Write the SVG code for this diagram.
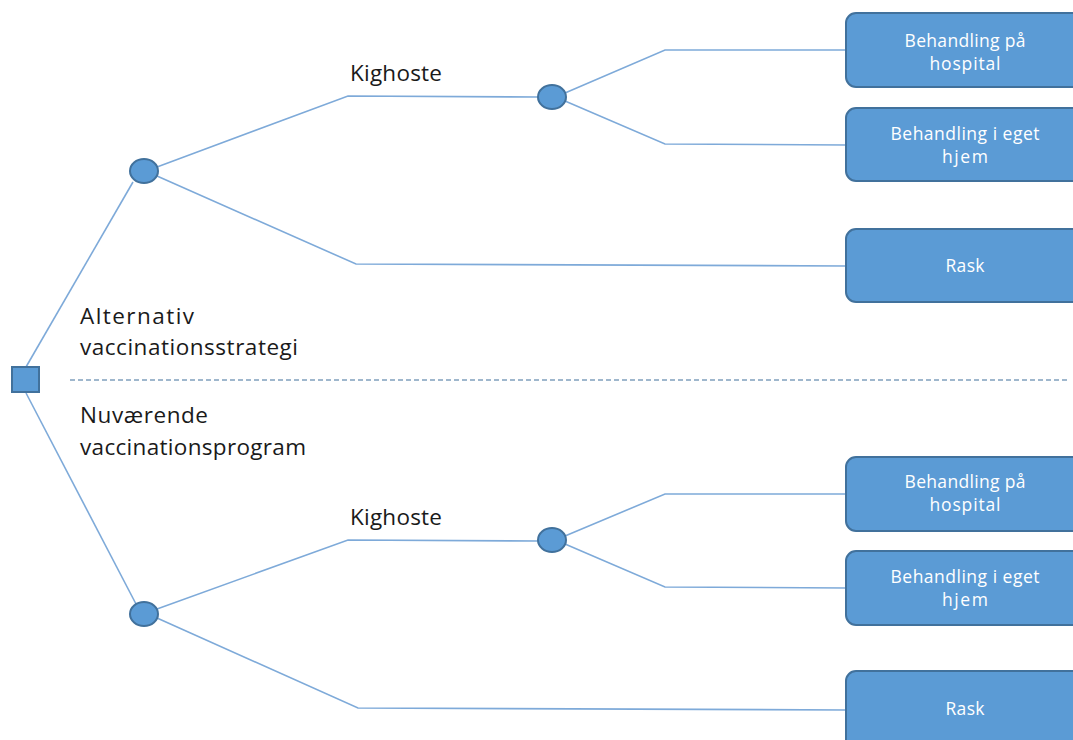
<svg xmlns="http://www.w3.org/2000/svg" width="1073" height="740" viewBox="0 0 1073 740">
<style>
.ln{fill:none;stroke:#7eaad9;stroke-width:1.6}
.box{fill:#5b9bd5;stroke:#41719c;stroke-width:2}
.chance{fill:#5b9bd5;stroke:#41719c;stroke-width:2}
.bt{font-family:"Open Sans","Liberation Sans",sans-serif;font-size:17.5px;fill:#ffffff;text-anchor:middle}
.lbl{font-family:"Open Sans","Liberation Sans",sans-serif;font-size:22.5px;fill:#1a1a1a}
</style>
<rect width="1073" height="740" fill="#ffffff"/>
<g id="connectors">
<polyline class="ln" points="26,367 133,182"/>
<polyline class="ln" points="26,393 136,604"/>
<polyline class="ln" points="157,167 348,96 538,97"/>
<polyline class="ln" points="157,176 356,264 846,266"/>
<polyline class="ln" points="565,93 665,50 846,50"/>
<polyline class="ln" points="565,101 665,144 846,145"/>
<polyline class="ln" points="157,609 348,540 538,541"/>
<polyline class="ln" points="157,618 358,708 846,710"/>
<polyline class="ln" points="565,536 665,494 846,494"/>
<polyline class="ln" points="565,544 665,587 846,588"/>
<line x1="70" y1="380" x2="1070" y2="380" stroke="#41719c" stroke-width="1.2" stroke-dasharray="5,3"/>
</g>
<g id="decision"><rect x="12" y="367" width="27" height="25" fill="#5b9bd5" stroke="#41719c" stroke-width="2"/></g>
<g id="c1"><ellipse class="chance" cx="144" cy="171" rx="14" ry="12"/></g>
<g id="c2"><ellipse class="chance" cx="552" cy="97" rx="14" ry="12"/></g>
<g id="c3"><ellipse class="chance" cx="144" cy="614" rx="14" ry="12"/></g>
<g id="c4"><ellipse class="chance" cx="552" cy="540" rx="14" ry="12"/></g>
<g id="b1"><rect class="box" x="846" y="13" width="240" height="74" rx="10"/><text class="bt" x="965" y="47" textLength="121">Behandling på</text><text class="bt" x="965" y="70" textLength="71">hospital</text></g>
<g id="b2"><rect class="box" x="846" y="108" width="240" height="73" rx="10"/><text class="bt" x="965" y="140" textLength="149">Behandling i eget</text><text class="bt" x="965" y="163" textLength="46">hjem</text></g>
<g id="b3"><rect class="box" x="846" y="229" width="240" height="73" rx="10"/><text class="bt" x="965" y="272" textLength="39">Rask</text></g>
<g id="b4"><rect class="box" x="846" y="457" width="240" height="74" rx="10"/><text class="bt" x="965" y="488" textLength="121">Behandling på</text><text class="bt" x="965" y="511" textLength="71">hospital</text></g>
<g id="b5"><rect class="box" x="846" y="551" width="240" height="74" rx="10"/><text class="bt" x="965" y="583" textLength="149">Behandling i eget</text><text class="bt" x="965" y="606" textLength="46">hjem</text></g>
<g id="b6"><rect class="box" x="846" y="671" width="240" height="80" rx="10"/><text class="bt" x="965" y="715" textLength="39">Rask</text></g>
<g id="labels">
<text class="lbl" x="350" y="81" textLength="92">Kighoste</text>
<text class="lbl" x="80" y="324" textLength="114">Alternativ</text>
<text class="lbl" x="80" y="355" textLength="218">vaccinationsstrategi</text>
<text class="lbl" x="80" y="423" textLength="128">Nuværende</text>
<text class="lbl" x="80" y="455" textLength="226">vaccinationsprogram</text>
<text class="lbl" x="350" y="525" textLength="92">Kighoste</text>
</g>
</svg>
